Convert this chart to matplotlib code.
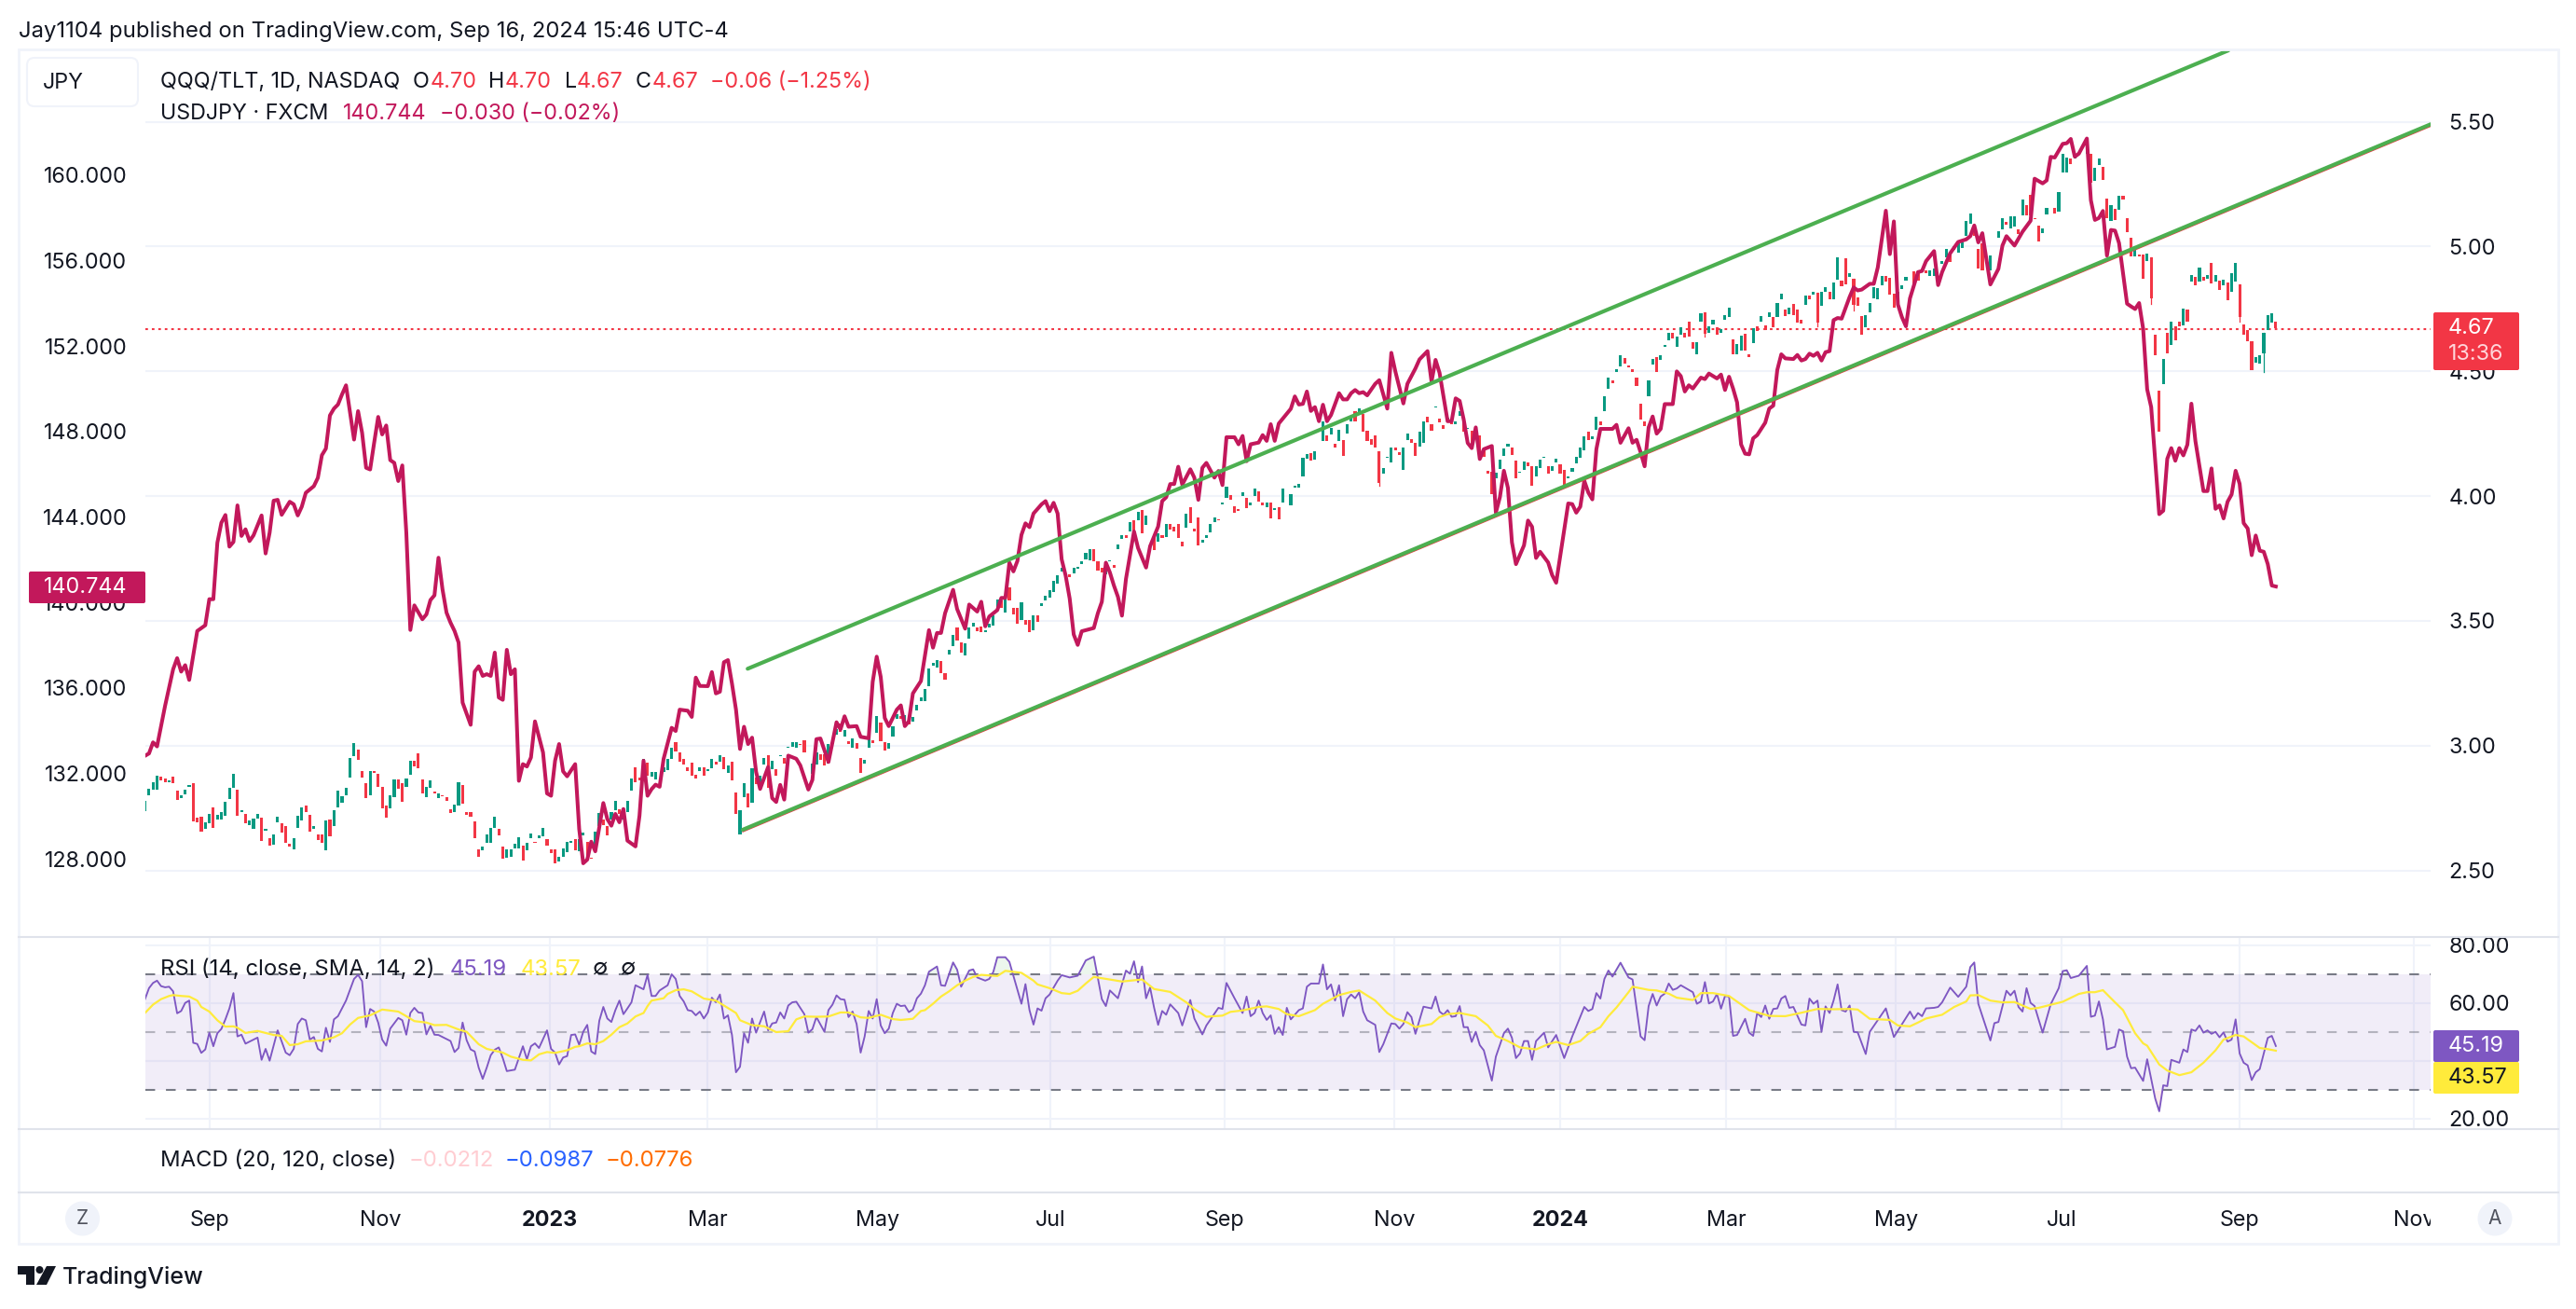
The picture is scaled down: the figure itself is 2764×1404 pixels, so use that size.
import matplotlib
matplotlib.use("Agg")
import matplotlib.pyplot as plt
from matplotlib.patches import Rectangle, FancyBboxPatch, Circle, Polygon
from matplotlib.transforms import Bbox
import numpy as np

plt.rcParams['font.family'] = ['Inter', 'DejaVu Sans']
plt.rcParams['lines.scale_dashes'] = False

# Bars are trading days counted from Sep 1 2022
month_ticks = [0, 42.5, 84.7, 123.9, 166.1, 209.3, 252.5, 294.7, 336, 377.3, 419.5, 460.7, 505, 548.3]
month_labels = ["Sep", "Nov", "2023", "Mar", "May", "Jul", "Sep", "Nov", "2024", "Mar", "May", "Jul", "Sep", "Nov"]

ratio_ticks = [2.5, 3.0, 3.5, 4.0, 4.5, 5.0, 5.5]
usd_ticks = [128, 132, 136, 140, 144, 148, 152, 156, 160]
rsi_ticks = [20, 40, 60, 80]
rsi_tick_labels = ["20.00", "", "60.00", "80.00"]  # 40.00 sits behind the badges

# QQQ/TLT candles
candle_bar = list(range(-16, 112))
candle_open = [
    2.739, 2.801, 2.825, 2.823, 2.876, 2.870, 2.852, 2.876, 2.819, 2.789, 2.806, 2.834, 2.848, 2.712, 2.715, 2.668,
    2.689, 2.752, 2.705, 2.703, 2.719, 2.785, 2.832, 2.825, 2.732, 2.725, 2.681, 2.668, 2.708, 2.712, 2.659, 2.629,
    2.603, 2.692, 2.689, 2.679, 2.605, 2.585, 2.672, 2.699, 2.759, 2.721, 2.665, 2.645, 2.645, 2.581, 2.705, 2.679,
    2.752, 2.772, 2.801, 2.872, 2.959, 2.983, 2.899, 2.848, 2.801, 2.899, 2.888, 2.835, 2.759, 2.748, 2.792, 2.866,
    2.848, 2.835, 2.883, 2.939, 2.968, 2.866, 2.795, 2.832, 2.815, 2.788, 2.801, 2.792, 2.745, 2.735, 2.761, 2.842,
    2.735, 2.735, 2.695, 2.583, 2.579, 2.612, 2.609, 2.672, 2.668, 2.596, 2.552, 2.556, 2.588, 2.588, 2.601, 2.579,
    2.628, 2.615, 2.628, 2.635, 2.625, 2.583, 2.585, 2.534, 2.556, 2.572, 2.612, 2.625, 2.575, 2.641, 2.615, 2.552,
    2.581, 2.679, 2.705, 2.679, 2.705, 2.743, 2.745, 2.705, 2.732, 2.819, 2.912, 2.872, 2.875, 2.932, 2.876, 2.863,
]
candle_close = [
    2.779, 2.828, 2.855, 2.879, 2.859, 2.852, 2.859, 2.850, 2.783, 2.801, 2.825, 2.843, 2.696, 2.692, 2.655, 2.692,
    2.725, 2.671, 2.721, 2.735, 2.775, 2.832, 2.886, 2.719, 2.743, 2.688, 2.699, 2.708, 2.725, 2.619, 2.665, 2.599,
    2.645, 2.715, 2.652, 2.612, 2.595, 2.629, 2.719, 2.752, 2.735, 2.655, 2.676, 2.621, 2.612, 2.699, 2.636, 2.743,
    2.819, 2.799, 2.832, 2.950, 3.010, 2.942, 2.872, 2.789, 2.899, 2.890, 2.835, 2.749, 2.712, 2.801, 2.863, 2.828,
    2.776, 2.870, 2.939, 2.916, 2.910, 2.808, 2.835, 2.859, 2.810, 2.810, 2.796, 2.780, 2.729, 2.765, 2.852, 2.769,
    2.721, 2.715, 2.628, 2.556, 2.596, 2.645, 2.672, 2.716, 2.641, 2.545, 2.585, 2.583, 2.605, 2.632, 2.538, 2.612,
    2.649, 2.609, 2.641, 2.669, 2.599, 2.568, 2.528, 2.554, 2.588, 2.615, 2.619, 2.579, 2.625, 2.652, 2.554, 2.548,
    2.656, 2.729, 2.681, 2.639, 2.735, 2.779, 2.725, 2.745, 2.779, 2.870, 2.852, 2.859, 2.946, 2.879, 2.895, 2.895,
]

candle_bar += list(range(113, 149)) + list(range(150, 213)) + list(range(214, 234)) + list(range(235, 268)) + list(range(269, 276))
candle_open += [
    2.895, 2.901, 2.947, 3.013, 2.973, 2.947, 2.912, 2.930, 2.884, 2.897, 2.914, 2.897, 2.908, 2.937, 2.937, 2.954,
    2.892, 2.934, 2.812, 2.645, 2.792, 2.809, 2.770, 2.871, 2.836, 2.923, 2.960, 2.904, 2.904, 2.958, 2.950, 2.990,
    2.996, 2.993, 3.006, 3.023,
    2.888, 2.923, 2.964, 2.967, 2.927, 3.006, 3.042, 3.087, 3.036, 3.019, 2.993, 3.010, 2.950, 2.929, 2.993, 3.023,
    3.052, 3.091, 3.013, 2.989, 3.036, 3.107, 3.118, 3.091, 3.102, 3.095, 3.141, 3.179, 3.179, 3.238, 3.321, 3.314,
    3.338, 3.292, 3.364, 3.397, 3.472, 3.413, 3.360, 3.430, 3.478, 3.474, 3.478, 3.456, 3.472, 3.482, 3.553, 3.583,
    3.535, 3.633, 3.553, 3.553, 3.502, 3.504, 3.504, 3.462, 3.521, 3.561, 3.583, 3.592, 3.616, 3.649, 3.697,
    3.688, 3.692, 3.708, 3.727, 3.747, 3.744, 3.786, 3.740, 3.714, 3.688, 3.739, 3.725, 3.789, 3.830, 3.845, 3.858,
    3.904, 3.902, 3.944, 3.885,
    3.839, 3.819, 3.845, 3.835, 3.889, 3.878, 3.887, 3.819, 3.875, 3.954, 3.868, 3.913, 3.813, 3.832, 3.856, 3.894,
    3.908, 3.966, 3.994, 4.005, 3.959, 3.948, 3.999, 3.994, 3.963, 3.999, 4.020, 3.976, 3.957, 3.976, 3.944, 3.954,
    3.976,
    3.963, 4.035, 4.035, 4.077, 4.151, 4.173, 4.147,
]
candle_close += [
    2.914, 2.947, 2.993, 2.977, 2.937, 2.923, 2.897, 2.879, 2.868, 2.912, 2.881, 2.904, 2.947, 2.923, 2.963, 2.905,
    2.921, 2.862, 2.728, 2.740, 2.851, 2.753, 2.908, 2.845, 2.881, 2.950, 2.832, 2.940, 2.881, 2.963, 2.927, 2.997,
    3.015, 3.013, 3.002, 2.971,
    2.927, 2.973, 2.944, 2.921, 3.006, 3.028, 3.065, 3.055, 3.061, 3.006, 3.028, 2.989, 2.892, 2.942, 3.055, 3.009,
    3.118, 3.017, 2.980, 3.010, 3.078, 3.127, 3.107, 3.124, 3.085, 3.115, 3.163, 3.192, 3.225, 3.308, 3.330, 3.344,
    3.292, 3.266, 3.382, 3.445, 3.422, 3.373, 3.409, 3.472, 3.491, 3.458, 3.455, 3.461, 3.487, 3.521, 3.587, 3.553,
    3.592, 3.580, 3.527, 3.490, 3.574, 3.485, 3.455, 3.521, 3.495, 3.570, 3.599, 3.622, 3.659, 3.681, 3.714,
    3.675, 3.714, 3.718, 3.740, 3.773, 3.786, 3.740, 3.701, 3.694, 3.708, 3.744, 3.712, 3.806, 3.845, 3.832, 3.894,
    3.852, 3.937, 3.852, 3.921,
    3.782, 3.852, 3.832, 3.887, 3.865, 3.858, 3.832, 3.797, 3.928, 3.891, 3.858, 3.802, 3.826, 3.843, 3.887, 3.913,
    3.904, 3.976, 4.039, 3.987, 3.934, 3.942, 4.016, 3.950, 3.974, 4.029, 3.979, 3.963, 3.976, 3.911, 3.953, 3.908,
    4.029,
    4.009, 4.042, 4.049, 4.153, 4.167, 4.143, 4.180,
]

candle_bar += list(range(277, 423)) + list(range(424, 430)) + list(range(431, 442)) + [443] + list(range(445, 458))
candle_open += [
    4.220, 4.243, 4.248, 4.210, 4.220, 4.226, 4.249, 4.301, 4.339, 4.326, 4.330, 4.261, 4.230, 4.243, 4.179, 4.089,
    4.152, 4.133, 4.195, 4.177, 4.104, 4.226, 4.230, 4.214, 4.198, 4.212, 4.317, 4.289, 4.355, 4.310, 4.285, 4.304,
    4.301, 4.289, 4.320, 4.307, 4.268, 4.261, 4.245, 4.243, 4.195, 4.102, 4.096, 4.071, 4.108, 4.162, 4.198, 4.193,
    4.142, 4.092, 4.106, 4.133, 4.121, 4.077, 4.111, 4.155, 4.118, 4.102, 4.136, 4.127, 4.104, 4.071, 4.096, 4.131,
    4.152, 4.185, 4.258, 4.229, 4.264, 4.299, 4.342, 4.430, 4.463, 4.497, 4.519, 4.553, 4.523, 4.509, 4.476, 4.370,
    4.298, 4.400, 4.526, 4.557, 4.544, 4.598, 4.623, 4.656, 4.597, 4.648, 4.656, 4.699, 4.617, 4.569, 4.700, 4.737,
    4.654, 4.688, 4.678, 4.656, 4.706, 4.716, 4.629, 4.567, 4.584, 4.650, 4.569, 4.613, 4.679, 4.700, 4.685, 4.716,
    4.716, 4.719, 4.787, 4.746, 4.729, 4.769, 4.746, 4.706, 4.765, 4.802, 4.806, 4.816, 4.762, 4.818, 4.818, 4.787,
    4.868, 4.864, 4.953, 4.877, 4.871, 4.796, 4.722, 4.675, 4.737, 4.793, 4.790, 4.843, 4.881, 4.874, 4.812, 4.784,
    4.828, 4.862,
    4.899, 4.899, 4.899, 4.906, 4.881, 4.881,
    4.931, 4.958, 4.974, 4.987, 4.974, 4.993, 5.043, 5.093, 5.080, 4.990, 5.012,
    4.906,
    5.036, 5.070, 5.099, 5.074, 5.080, 5.068, 5.124, 5.165, 5.207, 5.114, 5.083, 5.055, 5.130,
]
candle_close += [
    4.301, 4.220, 4.273, 4.193, 4.264, 4.162, 4.289, 4.320, 4.298, 4.351, 4.258, 4.220, 4.205, 4.193, 4.052, 4.112,
    4.158, 4.195, 4.183, 4.164, 4.195, 4.251, 4.214, 4.160, 4.258, 4.299, 4.295, 4.260, 4.360, 4.295, 4.268, 4.314,
    4.289, 4.301, 4.339, 4.258, 4.273, 4.208, 4.276, 4.177, 4.158, 4.089, 4.008, 4.093, 4.145, 4.189, 4.208, 4.164,
    4.071, 4.099, 4.137, 4.121, 4.043, 4.118, 4.145, 4.158, 4.089, 4.121, 4.148, 4.089, 4.031, 4.077, 4.114, 4.158,
    4.195, 4.241, 4.224, 4.239, 4.317, 4.285, 4.401, 4.473, 4.451, 4.507, 4.563, 4.532, 4.516, 4.497, 4.441, 4.307,
    4.280, 4.463, 4.550, 4.497, 4.563, 4.604, 4.654, 4.631, 4.640, 4.675, 4.634, 4.638, 4.592, 4.615, 4.731, 4.650,
    4.681, 4.706, 4.646, 4.669, 4.725, 4.754, 4.567, 4.609, 4.644, 4.582, 4.557, 4.673, 4.663, 4.721, 4.665, 4.737,
    4.675, 4.775, 4.812, 4.722, 4.756, 4.725, 4.694, 4.691, 4.802, 4.787, 4.818, 4.694, 4.818, 4.837, 4.787, 4.856,
    4.958, 4.841, 4.850, 4.893, 4.765, 4.762, 4.646, 4.725, 4.772, 4.837, 4.835, 4.883, 4.858, 4.808, 4.756, 4.818,
    4.843, 4.878,
    4.843, 4.862, 4.912, 4.893, 4.906, 4.912,
    4.943, 4.990, 4.937, 5.000, 5.018, 5.018, 5.101, 5.132, 5.043, 4.912, 4.906,
    4.965,
    5.061, 5.114, 5.086, 5.121, 5.121, 5.049, 5.190, 5.124, 5.124, 5.110, 5.020, 5.074, 5.155,
]

candle_bar += [459, 460, 461, 462, 463, 464, 465] + list(range(467, 515))
candle_open += [
    5.155, 5.141, 5.298, 5.297, 5.351, 5.351, 5.366,
    5.373, 5.370, 5.265, 5.326, 5.320, 5.194, 5.101, 5.151, 5.148, 5.205, 5.115, 5.036, 4.961, 4.969, 4.969, 4.943,
    4.955, 4.646, 4.421, 4.450, 4.653, 4.607, 4.679, 4.700, 4.683, 4.748, 4.858, 4.879, 4.858, 4.879, 4.872, 4.936,
    4.861, 4.862, 4.843, 4.855, 4.819, 4.858, 4.848, 4.686, 4.665, 4.622, 4.536, 4.529, 4.572, 4.667, 4.697, 4.700,
]
candle_close += [
    5.132, 5.218, 5.373, 5.358, 5.330, 5.366, 5.380,
    5.430, 5.254, 5.315, 5.351, 5.268, 5.112, 5.165, 5.108, 5.205, 5.187, 5.058, 4.961, 5.001, 4.961, 4.869, 4.972,
    4.793, 4.564, 4.257, 4.550, 4.572, 4.700, 4.626, 4.679, 4.750, 4.700, 4.886, 4.846, 4.915, 4.865, 4.886, 4.853,
    4.886, 4.825, 4.868, 4.786, 4.893, 4.933, 4.717, 4.647, 4.619, 4.503, 4.557, 4.564, 4.655, 4.726, 4.732, 4.672,
]

# the wicks that stick out enough to see
wick_bar = [511, 505, 483, 372, 400, 409, 291]
wick_high = [4.655, 4.848, 4.955, 4.737, 4.816, 4.871, 4.179]
wick_low = [4.496, 4.700, 4.770, 4.640, 4.680, 4.745, 4.040]

# USDJPY line, (bar, close) read where the line turns
usd_points = [
    (-16, 132.82), (-15, 132.93), (-14, 133.45), (-13, 133.26), (-11, 135.16), (-9, 136.87), (-8, 137.39), (-7, 136.76),
    (-6, 137.06), (-5, 136.37), (-3, 138.66), (-1, 138.93), (0, 140.15), (1, 140.15), (2, 142.79), (3, 143.73), (4, 144.09),
    (5, 142.61), (6, 142.83), (7, 144.54), (8, 143.11), (9, 143.42), (10, 142.87), (11, 143.14), (13, 144.07), (14, 142.29),
    (15, 143.26), (16, 144.76), (17, 144.80), (18, 144.10), (20, 144.71), (21, 144.59), (22, 144.07), (23, 144.48),
    (24, 145.13), (26, 145.44), (27, 145.83), (28, 146.89), (29, 147.20), (30, 148.75), (31, 149.07), (32, 149.26),
    (33, 149.73), (34, 150.16), (36, 147.62), (37, 148.95), (38, 147.94), (39, 146.30), (40, 146.22), (41, 147.47),
    (42, 148.68), (43, 147.86), (44, 148.28), (45, 146.66), (46, 146.53), (47, 145.68), (48, 146.41), (49, 143.26),
    (50, 138.71), (51, 139.86), (53, 139.21), (54, 139.44), (55, 140.11), (56, 140.33), (57, 142.09), (58, 140.61),
    (59, 139.52), (60, 139.05), (61, 138.66), (62, 138.12), (63, 135.31), (65, 134.27), (66, 136.76), (67, 137.01),
    (68, 136.56), (69, 136.64), (70, 136.56), (71, 137.65), (72, 135.55), (73, 135.44), (74, 137.78), (75, 136.64),
    (76, 136.87), (77, 131.65), (78, 132.43), (79, 132.32), (80, 132.74), (81, 134.43), (83, 132.98), (84, 131.06),
    (85, 130.95), (86, 132.59), (87, 133.37), (88, 132.09), (89, 131.86), (91, 132.43), (92, 129.39), (93, 127.79),
    (94, 127.96), (95, 128.80), (96, 128.35), (98, 130.61), (99, 129.86), (100, 129.55), (101, 130.10), (102, 129.71),
    (103, 130.33), (104, 128.85), (106, 128.58), (107, 130.02), (108, 132.59), (109, 130.95), (110, 131.26), (111, 131.47),
    (112, 131.37), (113, 132.68), (115, 134.13), (116, 133.98), (117, 134.98), (119, 134.93), (120, 134.64), (121, 136.48),
    (122, 136.09), (124, 136.08), (125, 136.74), (126, 135.74), (127, 135.82), (128, 137.20), (129, 137.30), (130, 136.20),
    (131, 134.98), (132, 133.14), (133, 134.18), (134, 133.37), (135, 133.67), (136, 132.07), (137, 131.27), (139, 132.30),
    (140, 130.84), (141, 130.66), (142, 131.46), (143, 130.77), (144, 132.83), (146, 132.68), (147, 132.37), (149, 131.24),
    (150, 131.69), (151, 133.60), (152, 133.63), (154, 132.53), (156, 134.39), (157, 134.06), (158, 134.67), (159, 134.18),
    (161, 134.21), (162, 133.71), (164, 133.64), (165, 136.28), (166, 137.46), (167, 136.51), (168, 134.59), (169, 134.21),
    (171, 134.98), (172, 135.18), (173, 134.21), (174, 134.44), (175, 135.74), (177, 136.32), (179, 138.70), (180, 137.88),
    (181, 138.57), (182, 138.57), (183, 139.49), (185, 140.59), (186, 139.69), (188, 138.77), (189, 139.90), (191, 139.57),
    (192, 140.03), (193, 138.88), (194, 139.34), (196, 139.64), (197, 140.21), (198, 140.21), (199, 141.86), (200, 141.45),
    (201, 141.94), (202, 143.16), (203, 143.70), (204, 143.52), (205, 144.16), (207, 144.59), (208, 144.74), (209, 144.27),
    (210, 144.66), (211, 144.16), (212, 142.02), (213, 141.25), (214, 140.18), (215, 138.50), (216, 138.01), (217, 138.65),
    (220, 138.80), (221, 139.49), (222, 140.03), (223, 141.86), (224, 141.40), (225, 140.79), (226, 140.26), (227, 139.38),
    (228, 141.10), (230, 143.32), (231, 142.55), (233, 141.63), (234, 142.63), (236, 143.55), (237, 144.74), (238, 144.92),
    (239, 145.54), (240, 145.54), (241, 146.35), (242, 145.51), (244, 146.23), (245, 145.84), (246, 144.80), (247, 146.30),
    (248, 146.53), (250, 145.84), (251, 146.15), (252, 145.49), (253, 147.73), (255, 147.73), (256, 147.40), (257, 147.79),
    (258, 146.61), (259, 147.40), (261, 147.48), (262, 147.83), (263, 147.56), (264, 148.34), (265, 147.56), (266, 148.37),
    (269, 149.06), (270, 149.64), (271, 149.26), (272, 149.29), (273, 149.87), (274, 148.96), (275, 149.14), (276, 148.48),
    (277, 149.25), (278, 148.48), (279, 148.77), (281, 149.79), (282, 149.50), (283, 149.50), (284, 149.79), (285, 149.94),
    (286, 149.79), (287, 149.84), (288, 149.69), (290, 150.23), (291, 150.40), (293, 149.07), (294, 151.68), (295, 150.81),
    (297, 149.31), (298, 150.23), (300, 150.95), (301, 151.37), (303, 151.76), (304, 150.33), (305, 151.35), (306, 150.74),
    (308, 148.48), (309, 148.48), (310, 149.55), (311, 149.43), (312, 148.56), (313, 147.46), (314, 147.22), (315, 148.19),
    (316, 146.71), (317, 147.17), (319, 147.32), (320, 144.20), (321, 144.92), (322, 146.16), (323, 145.36), (324, 142.81),
    (325, 141.79), (327, 142.67), (328, 143.83), (329, 143.54), (330, 142.08), (331, 142.37), (333, 141.87), (334, 141.28),
    (335, 140.92), (336, 142.16), (338, 144.63), (339, 144.60), (340, 144.20), (341, 144.48), (342, 145.69), (343, 145.14),
    (344, 144.82), (345, 147.17), (346, 148.12), (349, 148.12), (350, 148.31), (351, 147.47), (353, 148.15), (354, 147.47),
    (355, 147.61), (356, 147.03), (357, 146.37), (358, 148.19), (359, 148.70), (360, 147.90), (361, 148.12), (362, 149.28),
    (364, 149.28), (365, 150.81), (366, 150.59), (367, 149.87), (368, 150.16), (369, 150.01), (371, 150.52), (372, 150.45),
    (373, 150.71), (375, 150.48), (376, 150.66), (377, 149.94), (378, 150.56), (379, 150.01), (380, 149.36), (381, 147.39),
    (382, 146.96), (383, 146.93), (384, 147.68), (385, 147.83), (387, 148.41), (388, 149.07), (389, 149.21), (390, 150.88),
    (391, 151.61), (392, 151.42), (394, 151.39), (395, 151.58), (396, 151.32), (397, 151.39), (398, 151.64), (399, 151.54),
    (400, 151.68), (401, 151.32), (402, 151.71), (403, 151.76), (404, 153.21), (405, 153.31), (406, 153.28), (408, 154.30),
    (409, 154.74), (410, 154.60), (411, 154.64), (413, 154.91), (414, 154.91), (415, 155.68), (417, 158.33), (418, 156.30),
    (419, 157.83), (420, 153.94), (421, 153.35), (422, 152.92), (423, 154.23), (425, 155.46), (426, 155.51), (427, 155.97),
    (429, 156.44), (430, 154.85), (431, 155.46), (433, 156.34), (435, 156.87), (437, 156.99), (438, 157.14), (439, 157.64),
    (440, 156.85), (441, 157.28), (443, 154.88), (445, 155.61), (446, 156.70), (447, 157.14), (449, 156.70), (451, 157.35),
    (453, 157.86), (454, 159.83), (456, 159.61), (457, 159.75), (458, 160.85), (459, 160.82), (461, 161.46), (462, 161.49),
    (463, 161.69), (464, 160.86), (465, 161.00), (467, 161.71), (468, 158.82), (469, 157.90), (470, 157.99), (471, 158.32),
    (472, 156.23), (473, 157.43), (474, 157.40), (475, 156.82), (477, 153.98), (478, 153.85), (479, 153.73), (480, 154.01),
    (481, 152.81), (482, 149.97), (483, 149.14), (485, 144.13), (486, 144.29), (487, 146.72), (488, 147.22), (489, 146.63),
    (490, 147.22), (491, 146.88), (492, 147.38), (493, 149.30), (494, 147.55), (496, 145.21), (497, 145.21), (498, 146.27),
    (499, 144.38), (500, 144.54), (501, 143.93), (502, 144.71), (503, 145.05), (504, 146.16), (505, 145.55), (506, 143.71),
    (507, 143.46), (508, 142.21), (509, 143.13), (510, 142.42), (511, 142.37), (512, 141.79), (513, 140.79), (514, 140.744),
]
usd_bar = [p[0] for p in usd_points]
usd_close = [p[1] for p in usd_points]

# RSI(14)
rsi_points = [
    (-16, 61.4), (-15, 65.2), (-14, 67.0), (-13, 67.8), (-12, 65.9), (-11, 65.5), (-10, 65.7), (-9, 64.1), (-8, 56.5), (-7, 57.3),
    (-6, 60.1), (-5, 60.9), (-4, 46.3), (-3, 45.9), (-2, 42.8), (-1, 44.0), (0, 49.8), (1, 45.1), (2, 49.6), (3, 51.1), (4, 54.4),
    (5, 58.2), (6, 63.5), (7, 48.5), (8, 49.1), (9, 46.0), (12, 48.1), (13, 40.4), (14, 44.2), (15, 40.1), (17, 50.6), (19, 42.9),
    (20, 42.0), (21, 44.2), (22, 52.8), (23, 54.7), (24, 54.1), (25, 47.4), (26, 48.3), (27, 44.2), (28, 43.3), (29, 51.5),
    (30, 46.6), (31, 54.4), (32, 55.5), (34, 60.9), (36, 68.4), (37, 69.8), (38, 67.6), (39, 51.7), (40, 58.0), (41, 57.1),
    (42, 53.3), (43, 47.4), (44, 45.3), (45, 51.2), (47, 54.9), (48, 54.1), (49, 49.1), (50, 56.6), (51, 58.4), (52, 56.8),
    (53, 56.6), (54, 49.2), (55, 52.2), (56, 49.1), (57, 49.0), (60, 46.9), (61, 43.1), (62, 44.5), (63, 53.3), (64, 47.2),
    (65, 44.0), (66, 43.3), (67, 37.7), (68, 33.8), (69, 37.7), (70, 42.0), (71, 43.9), (72, 44.7), (73, 41.0), (74, 36.5),
    (76, 37.0), (77, 41.0), (78, 45.1), (79, 40.6), (80, 45.1), (81, 46.1), (82, 44.5), (84, 50.6), (85, 44.2), (86, 42.9),
    (87, 38.8), (88, 41.2), (89, 41.7), (90, 49.0), (91, 49.2), (92, 45.6), (93, 50.1), (94, 52.5), (95, 43.3), (96, 42.4),
    (97, 53.9), (98, 58.7), (99, 54.7), (100, 53.5), (101, 57.6), (102, 60.9), (103, 56.2), (104, 58.2), (105, 60.3), (106, 66.2),
    (108, 64.8), (109, 69.8), (110, 62.5), (111, 62.5), (112, 64.4), (114, 66.2), (115, 70.0), (116, 68.4), (117, 62.5), (118, 60.6),
    (119, 57.6), (120, 57.3), (121, 55.8), (122, 57.1), (123, 54.7), (124, 56.8), (125, 61.9), (126, 60.3), (127, 63.0), (128, 54.7),
    (129, 55.8), (130, 49.0), (131, 36.1), (132, 38.0), (133, 49.6), (134, 46.3), (135, 54.7), (136, 49.8), (138, 57.1), (139, 50.6),
    (140, 53.0), (141, 53.3), (142, 56.8), (143, 54.7), (144, 59.2), (145, 60.3), (146, 60.5), (148, 56.2), (149, 49.8), (150, 51.0),
    (151, 55.2), (153, 50.1), (154, 57.6), (155, 59.5), (156, 62.7), (157, 61.4), (158, 61.2), (159, 55.2), (160, 57.1), (161, 52.8),
    (162, 42.9), (163, 48.5), (164, 57.3), (165, 54.7), (166, 61.4), (167, 52.3), (168, 49.6), (169, 51.2), (170, 56.6), (171, 59.8),
    (172, 59.0), (173, 59.2), (174, 56.9), (175, 57.8), (176, 61.7), (177, 63.3), (178, 66.2), (179, 70.9), (181, 72.7), (182, 66.2),
    (183, 66.0), (185, 74.1), (186, 71.6), (187, 65.7), (189, 71.3), (190, 71.7), (191, 68.9), (193, 67.8), (194, 68.4), (195, 70.8),
    (196, 75.9), (198, 75.9), (199, 74.3), (202, 59.8), (203, 66.6), (204, 57.6), (205, 52.6), (206, 58.2), (207, 57.4), (208, 61.7),
    (209, 63.0), (211, 67.8), (212, 69.7), (214, 68.9), (216, 69.5), (218, 74.8), (220, 76.1), (222, 61.4), (223, 59.0), (224, 64.4),
    (226, 61.7), (228, 71.3), (229, 70.2), (230, 74.5), (231, 67.3), (232, 72.7), (233, 61.7), (234, 65.4), (235, 58.4), (236, 52.5),
    (237, 57.3), (238, 56.0), (239, 59.6), (241, 56.6), (242, 52.3), (244, 61.1), (245, 54.7), (247, 49.2), (248, 52.3), (251, 58.4),
    (252, 58.0), (253, 67.0), (255, 61.7), (257, 56.6), (258, 62.3), (259, 55.5), (260, 56.6), (261, 60.9), (262, 56.6), (263, 54.2),
    (264, 55.8), (265, 49.4), (266, 51.7), (267, 49.0), (268, 58.4), (269, 54.4), (271, 57.6), (272, 58.2), (273, 65.7), (274, 66.8),
    (276, 66.8), (277, 73.4), (278, 64.8), (279, 66.5), (280, 60.9), (281, 66.2), (282, 55.5), (283, 61.4), (284, 63.0), (285, 61.7),
    (286, 63.8), (287, 57.1), (288, 54.1), (290, 52.5), (291, 43.1), (292, 45.8), (294, 53.0), (295, 52.8), (296, 51.2), (297, 52.8),
    (298, 56.9), (299, 55.2), (300, 49.4), (302, 58.8), (304, 58.2), (305, 62.3), (306, 57.1), (307, 56.0), (308, 57.6), (309, 55.3),
    (310, 55.5), (311, 59.0), (312, 51.7), (313, 51.7), (314, 46.6), (315, 50.1), (316, 45.5), (317, 43.7), (319, 33.2), (320, 41.5),
    (322, 49.6), (323, 51.2), (324, 48.0), (325, 41.0), (326, 42.6), (327, 46.9), (328, 46.9), (329, 40.4), (330, 46.9), (332, 49.8),
    (333, 44.7), (335, 49.0), (337, 41.0), (339, 48.5), (342, 58.7), (343, 57.3), (344, 58.0), (345, 63.5), (346, 61.6), (347, 68.4),
    (348, 71.3), (349, 69.2), (351, 74.0), (353, 68.9), (354, 68.2), (356, 48.5), (357, 47.2), (358, 59.0), (359, 63.2), (360, 59.2),
    (361, 62.3), (362, 63.3), (363, 66.8), (364, 64.6), (365, 65.1), (366, 66.2), (369, 63.8), (370, 59.8), (371, 60.6), (372, 67.3),
    (373, 59.9), (374, 60.6), (375, 63.2), (376, 58.1), (377, 62.5), (378, 62.3), (379, 48.7), (380, 49.0), (382, 54.6), (383, 49.8),
    (384, 48.7), (385, 56.6), (386, 55.2), (387, 59.2), (388, 54.6), (389, 58.0), (390, 58.2), (391, 61.6), (392, 62.5), (393, 58.4),
    (394, 58.7), (396, 52.6), (397, 52.3), (398, 61.6), (399, 59.8), (400, 60.9), (401, 50.1), (402, 58.9), (403, 56.6), (404, 60.9),
    (405, 66.5), (406, 57.6), (407, 57.1), (408, 59.2), (409, 50.1), (410, 49.9), (412, 42.4), (413, 50.1), (417, 58.2), (419, 48.3),
    (423, 57.1), (424, 54.6), (425, 56.6), (426, 55.5), (427, 58.2), (429, 58.4), (430, 58.7), (431, 60.3), (433, 65.4), (435, 62.2),
    (437, 65.7), (438, 72.5), (439, 74.1), (440, 59.8), (443, 47.1), (444, 53.1), (445, 53.5), (447, 64.3), (448, 62.7), (449, 64.3),
    (450, 58.7), (451, 57.1), (452, 65.2), (453, 60.1), (454, 59.0), (456, 49.8), (458, 59.6), (460, 65.2), (461, 71.1), (462, 71.4),
    (463, 68.7), (465, 69.5), (467, 72.9), (468, 55.3), (469, 55.7), (470, 60.6), (471, 54.4), (472, 44.0), (474, 44.9), (475, 50.9),
    (476, 50.3), (477, 41.5), (478, 37.5), (479, 37.7), (481, 33.1), (482, 40.6), (484, 27.0), (485, 22.6), (486, 31.6), (487, 31.3),
    (488, 40.4), (490, 39.4), (491, 44.0), (492, 43.1), (493, 50.9), (494, 50.4), (495, 52.3), (496, 49.8), (497, 50.6), (498, 49.4),
    (499, 50.1), (500, 48.2), (501, 49.9), (502, 46.7), (503, 47.4), (504, 54.4), (505, 42.6), (506, 39.4), (507, 38.5), (508, 33.4),
    (509, 36.1), (510, 37.2), (512, 48.0), (513, 48.7), (514, 45.19),
]
rsi_bar = [p[0] for p in rsi_points]
rsi_value = [p[1] for p in rsi_points]

# RSI based SMA
sma_points = [
    (-16, 56.6), (-14, 59.5), (-12, 61.4), (-10, 62.5), (-9, 62.8), (-7, 62.5), (-5, 62.3), (-3, 60.9), (-2, 58.7), (0, 57.1), (2, 54.1),
    (4, 51.9), (6, 52.0), (7, 51.5), (9, 49.7), (12, 50.4), (16, 49.0), (18, 48.7), (20, 45.5), (22, 45.8), (24, 46.8), (28, 47.1),
    (31, 48.2), (33, 49.6), (35, 52.6), (37, 54.9), (40, 55.8), (43, 57.8), (47, 57.1), (49, 55.5), (51, 53.8), (54, 53.3), (56, 52.4),
    (59, 52.5), (62, 50.9), (64, 50.1), (67, 45.8), (69, 44.2), (73, 42.9), (75, 41.5), (78, 40.4), (80, 40.2), (82, 42.3), (84, 43.1),
    (86, 42.8), (89, 43.7), (91, 44.9), (92, 45.1), (94, 46.1), (96, 45.8), (98, 46.9), (100, 49.1), (102, 51.7), (104, 53.0), (106, 55.4),
    (108, 56.6), (109, 59.0), (110, 60.9), (113, 61.7), (114, 63.2), (116, 64.5), (118, 64.8), (120, 64.1), (123, 61.6), (126, 60.9),
    (128, 59.2), (131, 56.6), (132, 54.1), (135, 52.4), (138, 52.0), (141, 50.0), (144, 50.3), (146, 54.4), (148, 55.4), (151, 55.3),
    (154, 55.4), (157, 56.8), (159, 56.8), (162, 55.1), (164, 54.9), (167, 56.0), (170, 54.5), (172, 54.2), (175, 54.6), (177, 57.3),
    (178, 57.6), (180, 59.8), (182, 62.3), (184, 64.1), (186, 66.2), (188, 67.8), (190, 69.1), (192, 69.8), (196, 69.4), (198, 71.2),
    (202, 70.5), (205, 67.8), (206, 66.5), (209, 65.2), (212, 63.5), (214, 63.2), (216, 64.3), (218, 66.8), (220, 69.1), (223, 68.4),
    (227, 67.5), (232, 68.2), (235, 64.9), (239, 63.9), (243, 60.3), (245, 58.0), (248, 55.3), (252, 55.7), (254, 57.0), (257, 57.5),
    (261, 58.7), (263, 58.9), (266, 58.0), (268, 56.2), (271, 55.5), (275, 57.6), (277, 59.8), (281, 62.8), (284, 63.9), (286, 64.4),
    (290, 60.9), (293, 56.6), (295, 54.7), (298, 53.3), (300, 51.7), (304, 52.8), (306, 55.2), (308, 56.2), (311, 56.6), (315, 55.5),
    (318, 52.3), (320, 48.7), (323, 46.9), (326, 44.7), (330, 44.0), (333, 45.8), (335, 46.6), (338, 45.5), (341, 46.9), (343, 49.4),
    (346, 51.7), (348, 55.5), (350, 58.5), (353, 63.8), (354, 65.7), (358, 64.6), (360, 64.4), (363, 63.3), (365, 61.9), (369, 61.1),
    (371, 63.5), (374, 63.5), (378, 62.5), (383, 57.6), (388, 55.6), (392, 55.5), (396, 56.7), (400, 58.0), (404, 57.9), (408, 58.0),
    (410, 57.8), (413, 54.6), (418, 54.2), (420, 52.3), (423, 52.0), (425, 53.3), (427, 54.7), (431, 56.0), (434, 58.7), (437, 60.6),
    (438, 62.7), (440, 62.8), (443, 60.9), (446, 60.3), (449, 60.4), (453, 58.0), (455, 58.4), (461, 60.5), (465, 63.2), (467, 63.8),
    (469, 63.8), (471, 64.5), (474, 60.3), (476, 57.6), (479, 49.6), (481, 46.1), (482, 45.3), (485, 38.8), (487, 36.7), (490, 35.1),
    (493, 36.1), (496, 39.4), (499, 43.7), (501, 47.4), (504, 49.0), (506, 48.5), (510, 44.5), (512, 44.1), (514, 43.57),
]
sma_bar = [p[0] for p in sma_points]
sma_value = [p[1] for p in sma_points]

# channel drawn on the ratio
channel_bar = [132.7, 552.5]
channel_low = [2.663, 5.490]
channel_red = [2.655, 5.482]
channel_top_bar = [133.9, 502.2]
channel_top = [3.308, 5.786]
last_price = 4.67

GREEN = "#089981"
RED = "#f23645"
PINK = "#c2185b"
PURPLE = "#7e57c2"
YELLOW = "#ffeb3b"
TEXT = "#131722"
GRID = "#f0f3fa"
BORDER = "#e0e3eb"
FS = 16.8
FS_TEXT = 17.2

W, H = 2764, 1404
PANE_L, PANE_R = 156, 2608


def pane(top, bottom):
    return fig.add_axes([PANE_L / W, 1 - bottom / H, (PANE_R - PANE_L) / W, (bottom - top) / H])


fig = plt.figure(figsize=(W / 100, H / 100), dpi=100, facecolor="white")

ax = pane(53, 1005)
ax_usd = ax.twinx()
ax_line = ax.twinx()
ax_rsi = pane(1005, 1211)
ax_macd = pane(1211, 1279)

xlim = (-15.9, 552.5)
for a in [ax, ax_usd, ax_line, ax_rsi, ax_macd]:
    a.set_xlim(*xlim)
    for s in a.spines.values():
        s.set_visible(False)

# main pane
ax.set_ylim(2.233, 5.79)
ax.yaxis.tick_right()
ax.set_yticks(ratio_ticks)
ax.set_yticklabels([f"{t:.2f}" for t in ratio_ticks])
ax.set_xticks(month_ticks)
ax.grid(True, color=GRID, lw=1.5, zorder=0)
ax.set_axisbelow(True)
ax.tick_params(axis="y", length=0, pad=14, labelsize=FS, labelcolor=TEXT, right=False)
ax.tick_params(axis="x", length=0, labelbottom=False)

ax_usd.set_ylim(124.34, 165.88)
ax_usd.yaxis.tick_left()
ax_usd.set_yticks(usd_ticks)
ax_usd.set_yticklabels([f"{t:.3f}" for t in usd_ticks])
ax_usd.tick_params(axis="y", length=0, pad=14, labelsize=FS, labelcolor=TEXT)
ax_usd.set_xticks([])
ax_usd.patch.set_visible(False)

# trend lines sit on top of both series
ax_line.set_ylim(2.233, 5.79)
ax_line.set_yticks([])
ax_line.set_xticks([])
ax_line.patch.set_visible(False)

ax.axhline(last_price, color=RED, lw=1.5, dashes=(2, 3), zorder=1)

bars = np.array(candle_bar)
opens = np.array(candle_open)
closes = np.array(candle_close)
colors = [GREEN if c >= o else RED for o, c in zip(opens, closes)]
ax.bar(bars, closes - opens, bottom=opens, width=0.72, color=colors, linewidth=0, zorder=2)
for b, hi, lo in zip(wick_bar, wick_high, wick_low):
    c = GREEN if candle_close[candle_bar.index(b)] >= candle_open[candle_bar.index(b)] else RED
    ax.plot([b, b], [lo, hi], color=c, lw=0.9, zorder=2)

ax_usd.plot(usd_bar, usd_close, color=PINK, lw=2.9, solid_joinstyle="round", zorder=3)

ax_line.plot(channel_bar, channel_red, color=RED, lw=1.0, zorder=4)
ax_line.plot(channel_bar, channel_low, color="#4caf50", lw=3.0, zorder=5, solid_capstyle="round")
ax_line.plot(channel_top_bar, channel_top, color="#4caf50", lw=3.0, zorder=5, solid_capstyle="round")

# RSI pane
ax_rsi.set_ylim(16.45, 82.9)
ax_rsi.yaxis.tick_right()
ax_rsi.set_yticks(rsi_ticks)
ax_rsi.set_yticklabels(rsi_tick_labels)
ax_rsi.set_xticks(month_ticks)
ax_rsi.grid(True, color=GRID, lw=1.5, zorder=0)
ax_rsi.set_axisbelow(True)
ax_rsi.tick_params(axis="y", length=0, pad=14, labelsize=FS, labelcolor=TEXT)
ax_rsi.tick_params(axis="x", length=0, labelbottom=False)
ax_rsi.axhspan(30, 70, color=PURPLE, alpha=0.1, lw=0, zorder=1)
for lvl, alpha in [(70, 1), (50, 0.5), (30, 1)]:
    ax_rsi.axhline(lvl, color="#787b86", alpha=alpha, lw=1.5, dashes=(7.5, 8.4), zorder=2)
rsi_arr = np.array(rsi_value)
ax_rsi.fill_between(rsi_bar, 70, rsi_arr, where=rsi_arr > 70, interpolate=True, color="#4caf50", alpha=0.1, lw=0)
ax_rsi.fill_between(rsi_bar, 30, rsi_arr, where=rsi_arr < 30, interpolate=True, color="#f23645", alpha=0.1, lw=0)
ax_rsi.plot(rsi_bar, rsi_value, color=PURPLE, lw=1.35, zorder=3)
ax_rsi.plot(sma_bar, sma_value, color=YELLOW, lw=1.6, zorder=4)

# MACD pane carries the time axis, nothing is plotted in it
ax_macd.set_yticks([])
ax_macd.set_xticks(month_ticks)
ax_macd.set_xticklabels(month_labels)
ax_macd.tick_params(axis="x", length=0, pad=14, labelsize=FS, labelcolor=TEXT)
clip = Bbox([[0, 0], [PANE_R, H]])
for lab in ax_macd.get_xticklabels():
    if lab.get_text() in ("2023", "2024"):
        lab.set_fontweight("bold")
    lab.set_clip_box(clip)
    lab.set_clip_on(True)

# overlay in pixels for frame, legends and badges
ov = fig.add_axes([0, 0, 1, 1], zorder=10)
ov.set_xlim(0, W)
ov.set_ylim(H, 0)
ov.axis("off")
ov.patch.set_visible(False)

ov.add_patch(Rectangle((20, 53), 2725, 1281, fill=False, ec=GRID, lw=2))
for y in [1005, 1211, 1279]:
    ov.plot([20, 2745], [y, y], color=BORDER, lw=1.5)


def label(x, y, s, color=TEXT, size=FS_TEXT, **kw):
    ov.text(x, y + 2, s, color=color, fontsize=size, va="center", ha=kw.pop("ha", "left"), **kw)


label(20, 32, "Jay1104 published on TradingView.com, Sep 16, 2024 15:46 UTC-4")

ov.add_patch(FancyBboxPatch((32, 65), 113, 46, boxstyle="round,pad=3,rounding_size=8",
                            fc="white", ec=GRID, lw=1.5))
label(46, 87, "JPY", size=FS)

label(172, 86, "QQQ/TLT, 1D, NASDAQ", size=FS)
for x, s, c in [(443, "O", TEXT), (462, "4.70", RED), (524, "H", TEXT), (542, "4.70", RED),
                (606, "L", TEXT), (619, "4.67", RED), (682, "C", TEXT), (700, "4.67", RED),
                (762, "−0.06 (−1.25%)", RED)]:
    label(x, 86, s, c, size=FS)
label(172, 120, "USDJPY · FXCM", size=FS)
label(368, 120, "140.744", PINK, size=FS)
label(472, 120, "−0.030 (−0.02%)", PINK, size=FS)

label(172, 1038, "RSI (14, close, SMA, 14, 2)")
label(483, 1038, "45.19", PURPLE)
label(559, 1038, "43.57", YELLOW)
label(636, 1038, "∅")
label(666, 1038, "∅")

label(172, 1243, "MACD (20, 120, close)")
label(439, 1243, "−0.0212", "#ffcdd2")
label(542, 1243, "−0.0987", "#2962ff")
label(650, 1243, "−0.0776", "#ff6d00")

# price badges
ov.add_patch(FancyBboxPatch((33, 615), 121, 30, boxstyle="round,pad=2,rounding_size=2", fc=PINK, ec="none"))
label(137, 628, "140.744", "white", ha="right", size=FS)
ov.add_patch(FancyBboxPatch((2613, 337), 88, 58, boxstyle="round,pad=2,rounding_size=2", fc=RED, ec="none"))
label(2627, 350, "4.67", "white", size=FS)
label(2627, 378, "13:36", "#ffd5da", size=FS)
ov.add_patch(FancyBboxPatch((2613, 1107), 88, 30, boxstyle="round,pad=2,rounding_size=2", fc=PURPLE, ec="none"))
label(2627, 1120, "45.19", "white", size=FS)
ov.add_patch(FancyBboxPatch((2613, 1141), 88, 30, boxstyle="round,pad=2,rounding_size=2", fc=YELLOW, ec="none"))
label(2627, 1154, "43.57", TEXT, size=FS)

# zoom / auto buttons on the time axis
ov.add_patch(Circle((88.5, 1307), 18.5, fc=GRID, ec="none"))
label(88.5, 1305, "Z", "#50535e", ha="center", size=15)
ov.add_patch(Circle((2677, 1307), 18.5, fc=GRID, ec="none"))
label(2677, 1305, "A", "#50535e", ha="center", size=15)

# TradingView logo
ov.add_patch(Polygon([(19, 1358), (37, 1358), (37, 1378), (28, 1378), (28, 1367), (19, 1367)], fc=TEXT, ec="none"))
ov.add_patch(Circle((42.5, 1362), 4, fc=TEXT, ec="none"))
ov.add_patch(Polygon([(50, 1358), (60, 1358), (50, 1378), (39, 1378)], fc=TEXT, ec="none"))
label(67, 1368, "TradingView", TEXT, size=18, fontweight="medium")

fig.savefig("out.png", dpi=100)
